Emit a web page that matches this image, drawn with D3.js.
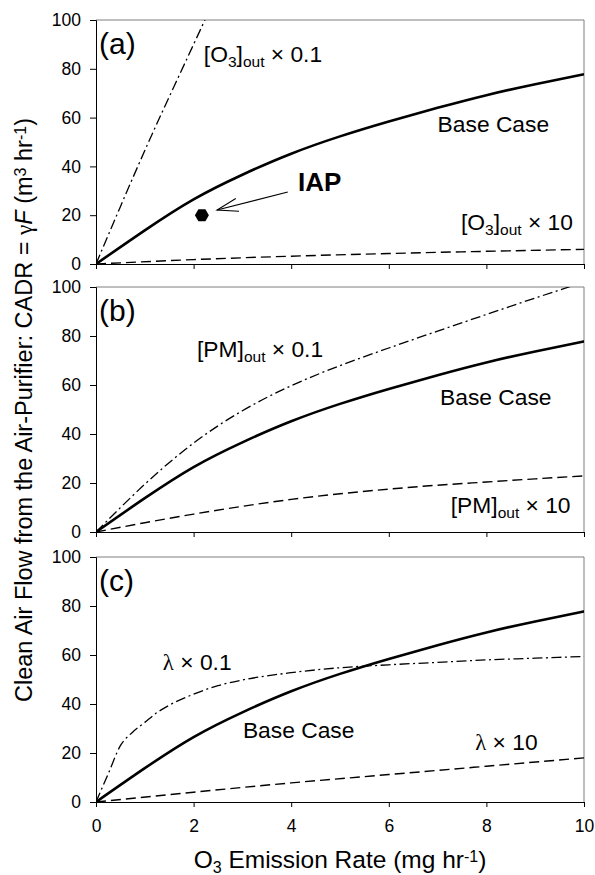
<!DOCTYPE html>
<html>
<head>
<meta charset="utf-8">
<script src="https://cdnjs.cloudflare.com/ajax/libs/d3/7.8.5/d3.min.js"></script>
<style>
  body { margin: 0; background: #fff; }
  text { font-family: "Liberation Sans", Arial, sans-serif; fill: #000; }
  .greek { font-family: "Liberation Serif", "Times New Roman", serif; }
</style>
</head>
<body>
<svg width="595" height="875"></svg>
<script>
// x values are O3 emission rate (mg/hr), y values CADR (m3/hr)
var xTicks = [0, 2, 4, 6, 8, 10];
var yTicks = [0, 20, 40, 60, 80, 100];

var baseX = [0, 1, 2, 3, 4, 5, 6, 7, 8, 9, 10];
var baseY = [0, 13.8, 26.5, 36.6, 45.2, 52.3, 58.4, 64, 69.2, 73.7, 77.8];

// panel (a) outdoor ozone
var o3LowX = [0, 0.5, 1, 1.5, 2, 2.3];
var o3LowY = [0, 23.5, 46.5, 68.5, 90, 103];
var o3HighX = [0, 2, 4, 6, 8, 10];
var o3HighY = [0, 1.8, 3.2, 4.3, 5.2, 6];

// panel (b) outdoor PM
var pmLowX = [0, 1, 2, 3, 4, 5, 6, 7, 8, 9, 10];
var pmLowY = [0, 19.5, 36.3, 49.5, 59.7, 67.9, 75.1, 82, 88.8, 95.5, 102];
var pmHighX = [0, 1, 2, 3, 4, 5, 6, 7, 8, 9, 10];
var pmHighY = [0, 3.8, 7.3, 10.5, 13.3, 15.6, 17.5, 19.1, 20.4, 21.7, 22.9];

// panel (c) air exchange rate
var lamLowX = [0, 0.25, 0.5, 0.75, 1, 1.25, 1.5, 2, 2.5, 3, 4, 5, 6, 7, 8, 9, 10];
var lamLowY = [0, 11.5, 23, 28.5, 32.5, 36.5, 39.5, 44, 47.5, 49.8, 52.8, 54.8, 56, 57, 58, 58.7, 59.4];
var lamHighX = [0, 2, 4, 6, 8, 10];
var lamHighY = [0, 4, 7.8, 11.2, 14.6, 18];

// IAP measured point
var iapX = 2.17, iapY = 20;

var svg = d3.select('svg');
var left = 96, right = 584;

var panels = [
  { key: 'a', top: 20, bottom: 264 },
  { key: 'b', top: 287, bottom: 532 },
  { key: 'c', top: 557, bottom: 802 }
];

var styles = {
  solid: { w: 2.6, dash: null },
  dashdot: { w: 1.3, dash: '10,3.5,2,3.5' },
  dashed: { w: 1.4, dash: '10,5' }
};

function zip(xs, ys) {
  return xs.map(function(v, i) { return [v, ys[i]]; });
}

panels.forEach(function(p, i) {
  var x = d3.scaleLinear().domain([0, 10]).range([left, right]);
  var y = d3.scaleLinear().domain([0, 100]).range([p.bottom, p.top]);
  p.x = x; p.y = y;

  var g = svg.append('g');

  g.append('clipPath').attr('id', 'clip' + p.key)
    .append('rect')
    .attr('x', left).attr('y', p.top)
    .attr('width', right - left).attr('height', p.bottom - p.top);

  // grey frame top/right
  g.append('path')
    .attr('d', 'M' + left + ',' + p.top + 'H' + right + 'V' + p.bottom)
    .attr('fill', 'none').attr('stroke', '#7f7f7f').attr('stroke-width', 1);

  var ya = g.append('g').attr('transform', 'translate(' + left + ',0)')
    .call(d3.axisLeft(y).tickValues(yTicks).tickSize(6).tickPadding(9));
  var xa = g.append('g').attr('transform', 'translate(0,' + p.bottom + ')')
    .call(d3.axisBottom(x).tickValues(xTicks).tickSize(5).tickPadding(13)
      .tickFormat(i === 2 ? d3.format('d') : function() { return ''; }));

  [ya, xa].forEach(function(a) {
    a.selectAll('text').style('font-size', '17.5px').attr('fill', '#000');
    a.selectAll('line, path').attr('stroke', '#000');
    a.select('.domain').attr('stroke-width', 1);
  });

  g.append('text')
    .attr('x', left + 3).attr('y', p.top + 34)
    .style('font-size', '30px')
    .text('(' + p.key + ')');
});

var line = function(p, curve) {
  return d3.line()
    .x(function(d) { return p.x(d[0]); })
    .y(function(d) { return p.y(d[1]); })
    .curve(curve);
};

function drawSeries(p, xs, ys, style, curve) {
  var s = styles[style];
  svg.append('path')
    .datum(zip(xs, ys))
    .attr('clip-path', 'url(#clip' + p.key + ')')
    .attr('d', line(p, curve || d3.curveNatural))
    .attr('fill', 'none')
    .attr('stroke', '#000')
    .attr('stroke-width', s.w)
    .attr('stroke-dasharray', s.dash);
}

var pa = panels[0], pb = panels[1], pc = panels[2];

drawSeries(pa, o3LowX, o3LowY, 'dashdot');
drawSeries(pa, o3HighX, o3HighY, 'dashed');
drawSeries(pa, baseX, baseY, 'solid');

drawSeries(pb, pmLowX, pmLowY, 'dashdot');
drawSeries(pb, pmHighX, pmHighY, 'dashed');
drawSeries(pb, baseX, baseY, 'solid');

drawSeries(pc, lamLowX, lamLowY, 'dashdot', d3.curveMonotoneX);
drawSeries(pc, lamHighX, lamHighY, 'dashed');
drawSeries(pc, baseX, baseY, 'solid');

// curve labels
function label(p, xv, yv, parts, size) {
  var t = svg.append('text')
    .attr('x', p.x(xv)).attr('y', p.y(yv))
    .style('font-size', (size || 22.8) + 'px');
  parts.forEach(function(part) {
    var ts = t.append('tspan').text(part.t);
    if (part.sub) ts.attr('baseline-shift', '-30%').style('font-size', '15.5px');
    if (part.greek) ts.attr('class', 'greek');
  });
  return t;
}

label(pa, 2.21, 82.8, [{ t: '[O' }, { t: '3', sub: 1 }, { t: ']' }, { t: 'out', sub: 1 }, { t: ' \u00d7 0.1' }]);
label(pa, 7.0, 54, [{ t: 'Base Case' }]);
label(pa, 7.48, 14, [{ t: '[O' }, { t: '3', sub: 1 }, { t: ']' }, { t: 'out', sub: 1 }, { t: ' \u00d7 10' }]);

label(pb, 2.07, 71.4, [{ t: '[PM]' }, { t: 'out', sub: 1 }, { t: ' \u00d7 0.1' }]);
label(pb, 7.05, 51.8, [{ t: 'Base Case' }]);
label(pb, 7.27, 7.8, [{ t: '[PM]' }, { t: 'out', sub: 1 }, { t: ' \u00d7 10' }]);

label(pc, 1.37, 53.9, [{ t: '\u03bb', greek: 1 }, { t: ' \u00d7 0.1' }]);
label(pc, 3.01, 26.1, [{ t: 'Base Case' }]);
label(pc, 7.77, 21.2, [{ t: '\u03bb', greek: 1 }, { t: ' \u00d7 10' }]);

// IAP point, hexagon
var hex = d3.range(6).map(function(k) {
  var a = Math.PI / 3 * k;
  return [7 * Math.cos(a), 7 * Math.sin(a)];
});
svg.append('path')
  .attr('transform', 'translate(' + pa.x(iapX) + ',' + pa.y(iapY) + ')')
  .attr('d', 'M' + hex.join('L') + 'Z')
  .attr('fill', '#000');

svg.append('text')
  .attr('x', pa.x(4.14)).attr('y', pa.y(30))
  .style('font-size', '26px').style('font-weight', 'bold')
  .text('IAP');

var ax0 = pa.x(3.93), ay0 = pa.y(29.5), ax1 = pa.x(2.48), ay1 = pa.y(22.1);
svg.append('line')
  .attr('x1', ax0).attr('y1', ay0).attr('x2', ax1).attr('y2', ay1)
  .attr('stroke', '#000').attr('stroke-width', 1.1);
var ang = Math.atan2(ay0 - ay1, ax0 - ax1);
var hl = 22, hs = 0.3;
svg.append('path')
  .attr('d', 'M' + (ax1 + hl * Math.cos(ang - hs)) + ',' + (ay1 + hl * Math.sin(ang - hs)) +
    'L' + ax1 + ',' + ay1 +
    'L' + (ax1 + hl * Math.cos(ang + hs)) + ',' + (ay1 + hl * Math.sin(ang + hs)))
  .attr('fill', 'none').attr('stroke', '#000').attr('stroke-width', 1.1);

// axis titles
var xt = svg.append('text')
  .attr('x', (left + right) / 2).attr('y', 868)
  .attr('text-anchor', 'middle')
  .style('font-size', '24.5px');
xt.append('tspan').text('O');
xt.append('tspan').text('3').attr('baseline-shift', '-30%').style('font-size', '16px');
xt.append('tspan').text(' Emission Rate (mg hr');
xt.append('tspan').text('-1').attr('baseline-shift', '40%').style('font-size', '16px');
xt.append('tspan').text(')');

var yt = svg.append('text')
  .attr('transform', 'translate(32,' + 410 + ') rotate(-90)')
  .attr('text-anchor', 'middle')
  .style('font-size', '23.5px');
yt.append('tspan').text('Clean Air Flow from the Air-Purifier: CADR = ');
yt.append('tspan').text('\u03b3').attr('class', 'greek');
yt.append('tspan').text('F').style('font-style', 'italic');
yt.append('tspan').text(' (m');
yt.append('tspan').text('3').attr('baseline-shift', '40%').style('font-size', '16px');
yt.append('tspan').text(' hr');
yt.append('tspan').text('-1').attr('baseline-shift', '40%').style('font-size', '16px');
yt.append('tspan').text(')');
</script>
</body>
</html>
